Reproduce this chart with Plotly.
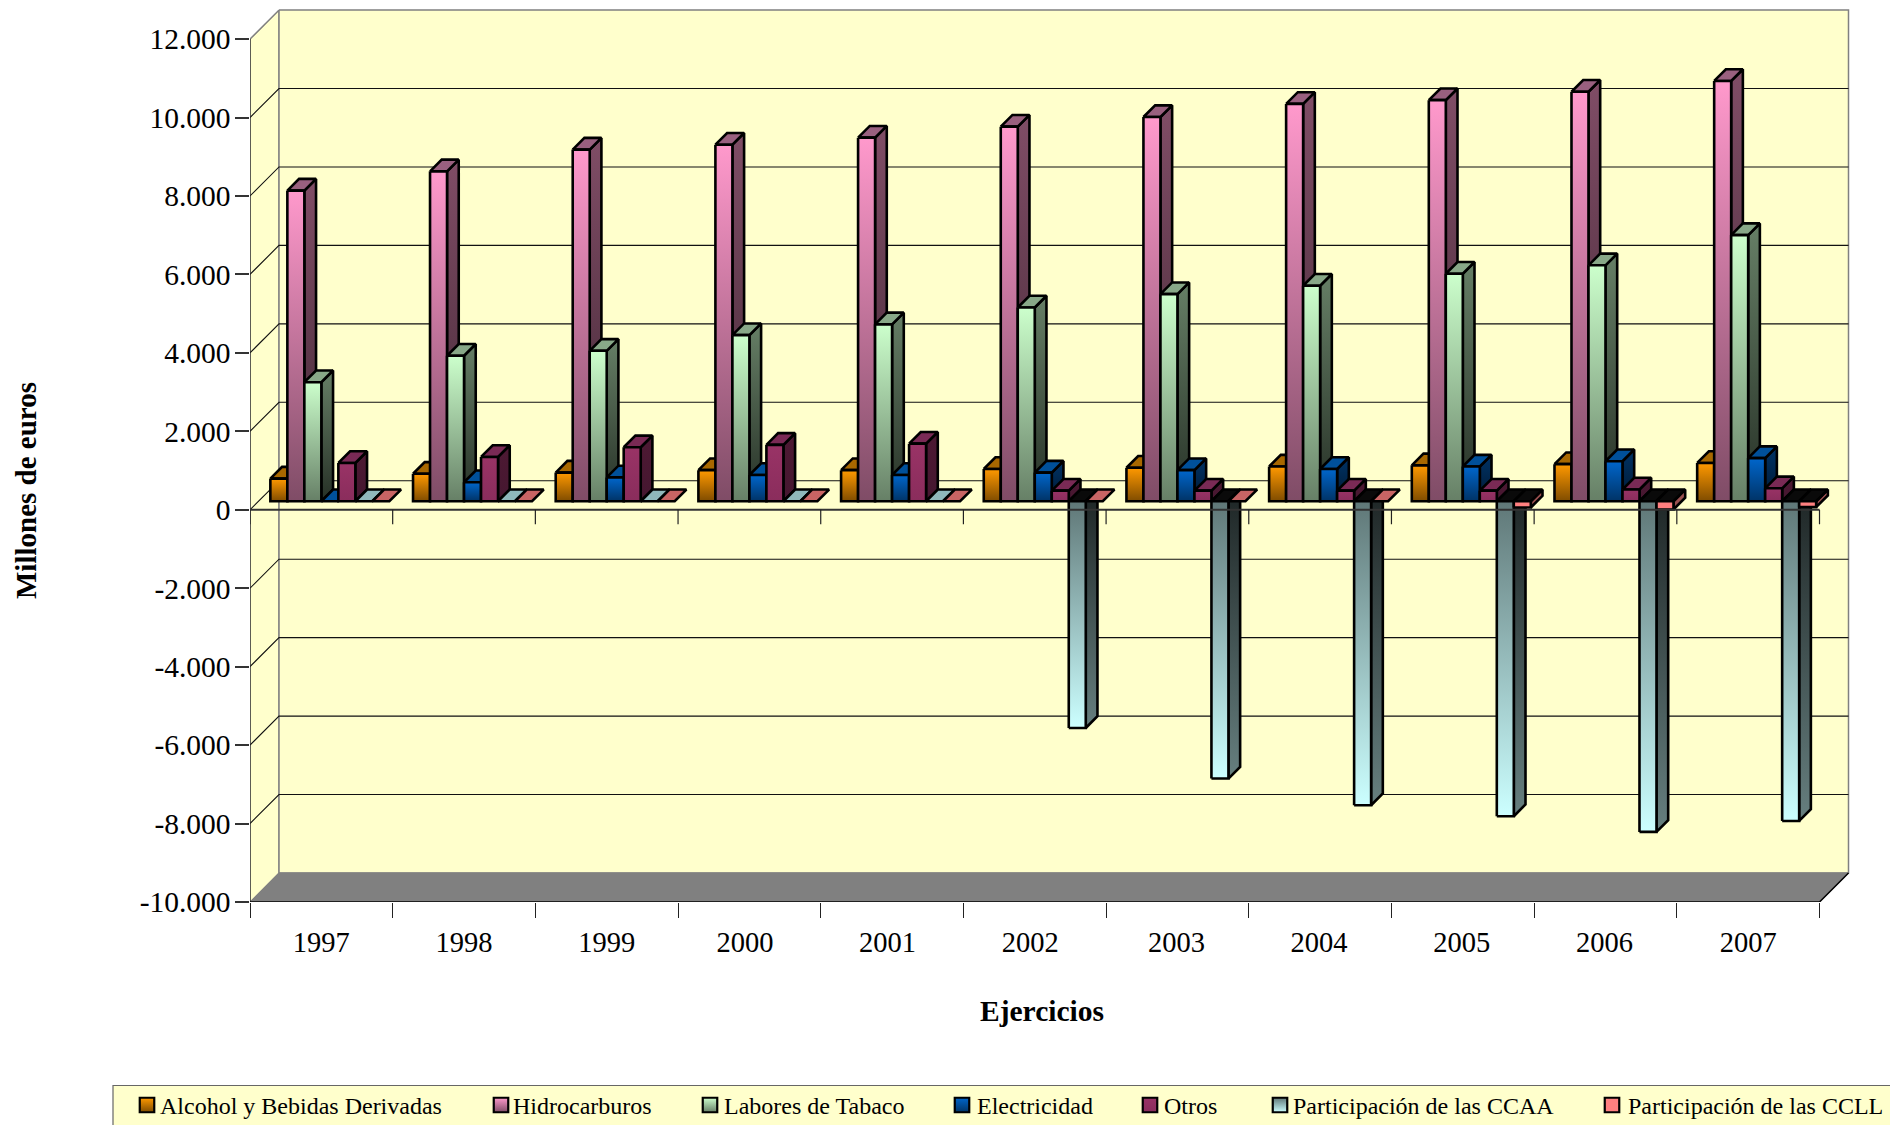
import plotly.graph_objects as go

years = [1997, 1998, 1999, 2000, 2001, 2002, 2003, 2004, 2005, 2006, 2007]
alcohol = [578, 700, 730, 793, 793, 823, 854, 885, 915, 946, 977]
hidrocarburos = [7920, 8410, 8965, 9090, 9270, 9550, 9795, 10130, 10225, 10440, 10715]
tabaco = [3035, 3710, 3835, 4235, 4510, 4940, 5280, 5495, 5800, 6015, 6785]
electricidad = [0, 485, 608, 670, 670, 731, 793, 823, 885, 1020, 1100]
otros = [977, 1130, 1376, 1438, 1468, 270, 270, 270, 270, 300, 330]
ccaa = [0, 0, 0, 0, 0, -5780, -7070, -7750, -8030, -8430, -8150]
ccll = [0, 0, 0, 0, 0, 0, 0, 0, -160, -210, -150]
series_names = ["Alcohol y Bebidas Derivadas", "Hidrocarburos", "Labores de Tabaco",
                "Electricidad", "Otros", "Participación de las CCAA", "Participación de las CCLL"]
series_values = [alcohol, hidrocarburos, tabaco, electricidad, otros, ccaa, ccll]
y_ticks = [-10000, -8000, -6000, -4000, -2000, 0, 2000, 4000, 6000, 8000, 10000, 12000]
y_labels = ["-10.000", "-8.000", "-6.000", "-4.000", "-2.000", "0", "2.000", "4.000",
            "6.000", "8.000", "10.000", "12.000"]

# style: (front at value end, front at base, side at value end, side at base, top face)
styles = [
    ("#FF9900", "#7F4C00", "#7F4C00", "#3F2600", "#A86800"),
    ("#FF99CC", "#7F4C66", "#804D66", "#402633", "#99607F"),
    ("#CCFFCC", "#667F66", "#667F66", "#263026", "#88A888"),
    ("#0066CC", "#003366", "#003366", "#001933", "#00509A"),
    ("#993366", "#8A2D5C", "#4D1933", "#451730", "#7A2A55"),
    ("#CCFFFF", "#5F7777", "#667F7F", "#202828", "#8FB8BB"),
    ("#FF8080", "#FF8080", "#9A5050", "#9A5050", "#C86464"),
]
# legend key gradient: (top colour, bottom colour)
legend_keys = [("#FF9900", "#7F4C00"), ("#FF99CC", "#7F4C66"), ("#CCFFCC", "#667F66"),
               ("#0066CC", "#003366"), ("#993366", "#8A2D5C"), ("#5F7777", "#CCFFFF"),
               ("#FF8080", "#FF8080")]

# geometry of the drawing, pixels
W, H = 1890, 1125
HP = 1107  # plotting height; the rest is the bottom margin
L, R, T, B = 250, 1850, 9, 902
PX_YEAR = 1569.5 / 11
PX_2000 = 78.45
DEPTH = 29
BAR_OFF = 8.5
BAR_W = 17
BAR_D = 11.7
GAP = 11.85
LABEL_NUDGE = [0, 0, 0, -4.5, -4.5, -4.5, -1, -1, -1, -1, 0]  # pixels


def dx(px):
    return px / PX_YEAR


def dv(px):
    return px * 2000 / PX_2000


x_min = years[0] - 0.5
x_max = years[-1] + 0.5
x_range = [x_min, x_min + dx(R - L)]
y_top = -10000 + dv(B - T)

fig = go.Figure()


def poly(xs, ys, fill=None, line="black", width=1, grad=None):
    kw = dict(x=xs + xs[:1], y=ys + ys[:1], mode="lines", fill="toself", cliponaxis=False,
              hoverinfo="skip", showlegend=False, line=dict(color=line, width=width))
    if grad:
        kw["fillgradient"] = dict(type="vertical", start=grad[0], stop=grad[1],
                                  colorscale=[[0, grad[2]], [1, grad[3]]])
    else:
        kw["fillcolor"] = fill
    fig.add_trace(go.Scatter(**kw))


def lines(xs, ys, color, width):
    fig.add_trace(go.Scatter(x=xs, y=ys, mode="lines", cliponaxis=False, hoverinfo="skip",
                             showlegend=False, line=dict(color=color, width=width)))


wall = "#FFFFCC"
gray = "#808080"
edge = 2.6
back = dv(DEPTH)
# side wall, back wall, floor
poly([x_min, x_min + dx(DEPTH), x_min + dx(DEPTH), x_min],
     [12000, 12000 + back, -10000 + back, -10000], wall, gray, 1.2)
poly([x_min + dx(DEPTH), x_max + dx(DEPTH), x_max + dx(DEPTH), x_min + dx(DEPTH)],
     [12000 + back, 12000 + back, -10000 + back, -10000 + back], wall, gray, 1.5)
gx, gy = [], []
for v in y_ticks[1:-1]:
    gx += [x_min, x_min + dx(DEPTH), x_max + dx(DEPTH), None]
    gy += [v, v + back, v + back, None]
lines(gx, gy, "#111111", 1.1)
lines([x_min, x_min + dx(DEPTH)], [12000, 12000 + back], gray, 1.2)
poly([x_min, x_max, x_max + dx(DEPTH), x_min + dx(DEPTH)],
     [-10000, -10000, -10000 + back, -10000 + back], gray, gray, 1)
lines([x_min, x_min], [12000, -10000], "#222222", 1.2)
lines([x_min, x_max, x_max + dx(DEPTH)], [-10000, -10000, -10000 + back], "black", 1.5)

# bars
base = dv(BAR_OFF)
for k, yr in enumerate(years):
    for i, values in enumerate(series_values):
        v = values[k]
        st = styles[i]
        x0 = yr - 0.5 + dx(BAR_OFF + GAP + i * BAR_W)
        x1 = x0 + dx(BAR_W)
        xd, yd = dx(BAR_D), dv(BAR_D)
        y0, y1 = base, base + v
        hi = max(y0, y1)
        # side face
        if v != 0:
            poly([x1, x1 + xd, x1 + xd, x1], [y1, y1 + yd, y0 + yd, y0], line="black", width=edge,
                 grad=(y0, y1 + (yd if v > 0 else 0), st[3], st[2]))
        # top face
        top_col = "#0A0A0A" if v < 0 else st[4]
        poly([x0, x1, x1 + xd, x0 + xd], [hi, hi, hi + yd, hi + yd], top_col, "black", edge)
        # front face
        if v != 0:
            poly([x0, x1, x1, x0], [y1, y1, y0, y0], line="black", width=edge,
                 grad=(y0, y1, st[1], st[0]))

# axis line at zero, with its tick marks
bounds = [yr - 0.5 for yr in years] + [years[-1] + 0.5]
lines([x_min, x_max], [0, 0], "#333333", 1.8)
tx, ty = [], []
for b in bounds:
    tx += [b, b, None]
    ty += [0, -dv(14.5), None]
lines(tx, ty, "#222222", 1.2)

# legend box and entries, on a page-sized overlay axis pair measured in pixels
fig.add_shape(type="rect", xref="paper", yref="paper", x0=113 / W, x1=1.01, y0=(HP - 1085.5) / HP, y1=-0.05,
              fillcolor="#FFFFCC", line=dict(color="#666666", width=1.2), layer="below")
swatch_px = [147, 501, 710, 962, 1150, 1280, 1612]
label_px = [157.5, 510.5, 721.5, 974.5, 1161.5, 1291, 1626]
annotations = []
for i, name in enumerate(series_names):
    fig.add_trace(go.Scatter(
        x=[swatch_px[i]], y=[1105], xaxis="x2", yaxis="y2", mode="markers", cliponaxis=False,
        hoverinfo="skip", showlegend=False,
        marker=dict(symbol="square", size=14.5, color=legend_keys[i][0],
                    gradient=dict(type="vertical", color=legend_keys[i][1]),
                    line=dict(color="black", width=2.2))))
    annotations.append(dict(x=label_px[i], y=1106, xref="x2", yref="y2", text=name, showarrow=False,
                            xanchor="left", yanchor="middle", font=dict(size=24)))

annotations.append(dict(x=26, y=491, xref="x2", yref="y2", text="<b>Millones de euros</b>",
                        textangle=-90, showarrow=False, font=dict(size=29)))
annotations.append(dict(x=1042, y=1011, xref="x2", yref="y2", text="<b>Ejercicios</b>",
                        showarrow=False, font=dict(size=29.5)))

fig.update_layout(
    width=W, height=H, autosize=False,
    margin=dict(l=0, r=0, t=0, b=H - HP, pad=0),
    paper_bgcolor="white", plot_bgcolor="rgba(0,0,0,0)",
    font=dict(family="Liberation Serif", color="black", size=28),
    showlegend=False, hovermode=False,
    annotations=annotations,
    xaxis=dict(domain=[L / W, R / W], range=x_range, showgrid=False, zeroline=False, showline=False,
               tickmode="array", tickvals=[y + dx(n) for y, n in zip(years, LABEL_NUDGE)],
               ticktext=[str(y) for y in years],
               ticks="", ticklabelstandoff=20, tickfont=dict(size=28.5),
               minor=dict(tickmode="array", tickvals=bounds, ticks="outside", ticklen=14.5,
                          tickwidth=1.2, tickcolor="#222222", showgrid=False)),
    yaxis=dict(domain=[(HP - B) / HP, (HP - T) / HP], range=[-10000, y_top], showgrid=False,
               zeroline=False, showline=False,
               tickmode="array", tickvals=y_ticks, ticktext=y_labels,
               ticks="outside", ticklen=14.5, tickwidth=1.5, tickcolor="#333333",
               ticklabelstandoff=-2, tickfont=dict(size=29.5)),
    xaxis2=dict(domain=[0, 1], range=[0, W], visible=False, anchor="y2"),
    yaxis2=dict(domain=[0, 1], range=[HP, 0], visible=False, anchor="x2"),
)

fig.write_html("out.html", config={"displayModeBar": False},
               post_script="document.body.style.margin='0';document.body.style.overflow='hidden';")
